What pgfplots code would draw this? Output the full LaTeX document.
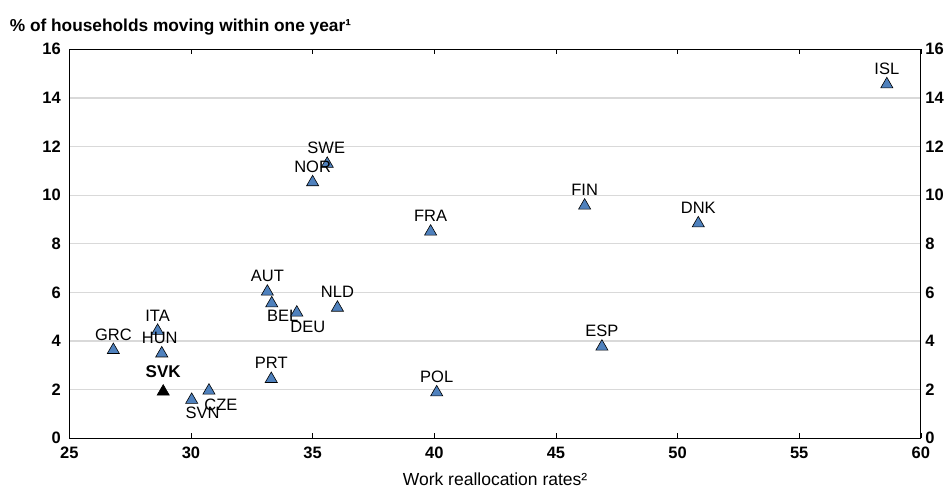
\documentclass[border=0pt]{standalone}
\usepackage{fontspec}
\setmainfont{Liberation Sans}
\usepackage{pgfplots}
\usepackage{pgfplotstable}
\pgfplotsset{compat=1.18}

\definecolor{oecdblue}{RGB}{79,129,189}
\definecolor{gridgray}{RGB}{217,217,217}

% x, y, label, label offset (pt)
\pgfplotstableread{
x     y      lab  dx   dy
26.81 3.63   GRC  0    15.5
28.63 4.42   ITA  0    15.5
28.80 3.49   HUN  -2   15.5
30.03 1.58   SVN  11   -13
30.74 1.96   CZE  12   -14.5
33.30 2.44   PRT  0    16
33.14 6.03   AUT  0    15.5
33.32 5.55   BEL  11   -12.5
34.35 5.17   DEU  11   -14
36.02 5.37   NLD  0    15.5
35.60 11.29  SWE  -1   16
35.00 10.53  NOR  0    15.5
39.85 8.50   FRA  0    15.5
46.18 9.57   FIN  0    16
50.85 8.84   DNK  0    15.5
46.89 3.77   ESP  0    15.5
40.10 1.89   POL  0    15.5
58.60 14.56  ISL  0    15
}\countries

\pgfplotstableread{
x     y     lab  dx  dy
28.86 1.92  SVK  0   20
}\svk

\begin{document}
\begin{tikzpicture}
\pgfplotsset{
  base/.style={
    scale only axis, width=851.6pt, height=389pt,
    xmin=25, xmax=60, ymin=0, ymax=16,
    ytick={0,2,...,16},
    /pgf/number format/assume math mode=true,
    ticklabel style={font=\bfseries\fontsize{16.5}{18}\selectfont},
    axis line style={black, line width=1pt},
  },
}
\begin{axis}[base,
  xtick={25,30,...,60},
  tick align=inside,
  major tick length=5pt,
  xtick style={black, line width=0.8pt},
  ytick style={draw=none},
  ymajorgrids,
  grid style={gridgray, line width=1.2pt},
  yticklabel style={xshift=-5pt},
  xticklabel style={yshift=-5pt},
  xlabel={Work reallocation rates²},
  xlabel style={at={(axis description cs:0.5,0)}, anchor=north, yshift=-31pt,
    font=\fontsize{17.5}{19}\selectfont},
  title={\textbf{\% of households moving within one year¹}},
  title style={at={(axis description cs:0,1)}, anchor=base west,
    xshift=-63pt, yshift=12pt, font=\fontsize{17.3}{19}\selectfont},
  clip=false,
]
\addplot[only marks, mark=triangle*, mark size=7pt,
  mark options={fill=oecdblue, draw=black, line width=0.6pt},
  nodes near coords, point meta=explicit symbolic,
  visualization depends on={\thisrow{dx}\as\dx},
  visualization depends on={\thisrow{dy}\as\dy},
  nodes near coords style={anchor=center, inner sep=0pt, xshift=\dx pt, yshift=\dy pt,
    font=\fontsize{16.5}{18}\selectfont, text=black},
] table[x=x, y=y, meta=lab] {\countries};
\addplot[only marks, mark=triangle*, mark size=7pt,
  mark options={fill=black, draw=black, line width=0.6pt},
  nodes near coords, point meta=explicit symbolic,
  visualization depends on={\thisrow{dx}\as\dx},
  visualization depends on={\thisrow{dy}\as\dy},
  nodes near coords style={anchor=center, inner sep=0pt, xshift=\dx pt, yshift=\dy pt,
    font=\bfseries\fontsize{17}{19}\selectfont, text=black},
] table[x=x, y=y, meta=lab] {\svk};
\end{axis}
\begin{axis}[base,
  axis x line=none,
  axis y line*=right,
  ytick style={draw=none},
  yticklabel pos=right,
  yticklabel style={xshift=1pt},
]
\end{axis}
\pgfresetboundingbox
\path[use as bounding box] (-69.3pt,-54.7pt) rectangle (882.7pt,438.3pt);
\end{tikzpicture}
\end{document}
